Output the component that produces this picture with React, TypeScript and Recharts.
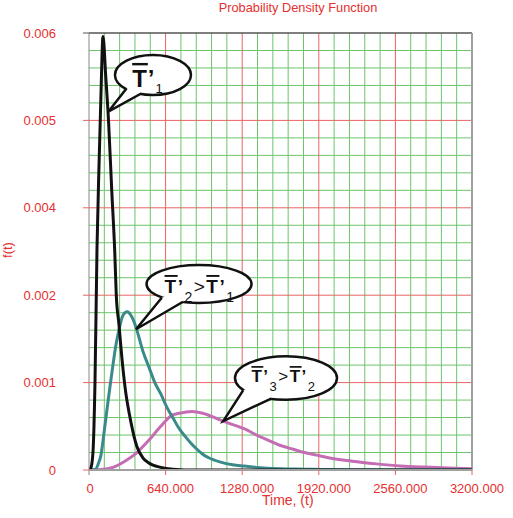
import { LineChart, Line, XAxis, YAxis, ReferenceLine, ReferenceDot } from "recharts";

// axis ticks
const X_TICKS = [0, 640, 1280, 1920, 2560, 3200];
const X_TICK_LABELS = ["0", "640.000", "1280.000", "1920.000", "2560.000", "3200.000"];
// the reference axis skips 0.003: labels are evenly spaced
const Y_TICK_VALUES = [0, 0.001, 0.002, 0.004, 0.005, 0.006];
const Y_TICK_LABELS = ["0", "0.001", "0.002", "0.004", "0.005", "0.006"];

// T'1 (black)
const BLACK_T = [0, 17, 33, 50, 67, 84, 100, 117, 140, 163, 190, 215, 228, 250, 275, 300, 350, 400, 450, 500, 600, 700, 900, 3200];
const BLACK_F = [0, 0.00003, 0.0002, 0.001, 0.0031, 0.0045, 0.0053, 0.00596, 0.0055, 0.005, 0.0042, 0.003, 0.002, 0.00167, 0.00128, 0.00096, 0.00055, 0.00027, 0.00014, 0.00008, 0.00003, 0.00001, 0, 0];

// T'2 (teal)
const TEAL_T = [0, 56, 80, 100, 125, 150, 175, 200, 225, 250, 275, 300, 320, 350, 375, 400, 450, 500, 550, 600, 650, 700, 750, 800, 850, 900, 950, 1000, 1100, 1200, 1300, 1400, 1600, 1800, 2000, 2400, 3200];
const TEAL_F = [0, 0.00001, 0.00008, 0.00017, 0.00042, 0.00069, 0.00095, 0.0012, 0.00143, 0.0016, 0.00174, 0.0018, 0.00181, 0.00177, 0.0017, 0.0016, 0.00136, 0.00118, 0.001, 0.00087, 0.00072, 0.0006, 0.00048, 0.00039, 0.00031, 0.00024, 0.00018, 0.00014, 0.00009, 0.00006, 0.000045, 0.00003, 0.000015, 0.00001, 0.000005, 0.000003, 0.000002];

// T'3 (pink)
const PINK_T = [0, 100, 200, 300, 400, 500, 600, 700, 800, 860, 950, 1100, 1200, 1300, 1400, 1500, 1600, 1700, 1800, 1900, 2000, 2200, 2400, 2600, 2800, 3000, 3200];
const PINK_F = [0, 0.000005, 0.00003, 0.0001, 0.0002, 0.00034, 0.0005, 0.00063, 0.00066, 0.00067, 0.00065, 0.00057, 0.00052, 0.00047, 0.0004, 0.00034, 0.00028, 0.00024, 0.0002, 0.00017, 0.00014, 0.0001, 0.00007, 0.000046, 0.000033, 0.000024, 0.000015];

const RED = "#e5302f";
const GRID_RED = "#e86464";
const GRID_GREEN = "#6cc46a";
const FONT = "'Liberation Sans', Arial, sans-serif";

// value -> position on the (uneven) y axis, in tick-index units
const toAxis = (v: number) => {
  for (let i = 0; i < Y_TICK_VALUES.length - 1; i++) {
    const a = Y_TICK_VALUES[i];
    const b = Y_TICK_VALUES[i + 1];
    if (v <= b) return i + (v - a) / (b - a);
  }
  return Y_TICK_VALUES.length - 1;
};

const toSeries = (t: number[], f: number[]) => t.map((x, i) => ({ x, y: toAxis(f[i]) }));

const blackData = toSeries(BLACK_T, BLACK_F);
const tealData = toSeries(TEAL_T, TEAL_F);
const pinkData = toSeries(PINK_T, PINK_F);

const Y_INDEX = Y_TICK_VALUES.map((_, i) => i);
const X_MINOR = Array.from({ length: 26 }, (_, i) => i * 128).filter((v) => v > 0 && v < 3200 && v % 640 !== 0);
const Y_MINOR = Array.from({ length: 26 }, (_, i) => i / 5).filter((v) => v > 0 && v < 5 && Math.abs(v - Math.round(v)) > 0.01);

const YTick = (props: any) => {
  const { x, y, payload } = props;
  return (
    <g>
      <line x1={x - 6} x2={x} y1={y} y2={y} stroke={payload.value === 5 ? "#555" : GRID_RED} />
      <text x={x - 33} y={y} dy="0.36em" textAnchor="end" fill={RED} fontSize={13} fontFamily={FONT}>
        {Y_TICK_LABELS[payload.value]}
      </text>
    </g>
  );
};

const XTick = (props: any) => {
  const { x, y, payload } = props;
  const i = X_TICKS.indexOf(payload.value);
  return (
    <g>
      <line x1={x} x2={x} y1={y} y2={y + 5} stroke={i === 0 ? "#888" : GRID_RED} />
      <text x={x + (i === 0 ? 1 : 5)} y={y + 23} textAnchor="middle" fill={RED} fontSize={13} fontFamily={FONT}>
        {X_TICK_LABELS[i]}
      </text>
    </g>
  );
};

interface BubbleSpec {
  ex: number;
  ey: number;
  rx: number;
  ry: number;
  b1: [number, number];
  b2: [number, number];
  tdx: number;
  base: number;
  size: number;
  sub: number;
  subDy: number;
  spacing: number;
  parts: string[];
}

const Bubble = ({ cx, cy, s }: { cx: number; cy: number; s: BubbleSpec }) => {
  const ecx = cx + s.ex;
  const ecy = cy + s.ey;
  const p1 = [cx + s.b1[0], cy + s.b1[1]];
  const p2 = [cx + s.b2[0], cy + s.b2[1]];
  const inward = (p: number[]) => {
    const dx = ecx - p[0];
    const dy = ecy - p[1];
    const d = Math.hypot(dx, dy);
    return [p[0] + (dx / d) * 5, p[1] + (dy / d) * 5];
  };
  const q1 = inward(p1);
  const q2 = inward(p2);
  const children: any[] = [];
  s.parts.forEach((p, i) => {
    if (p === "T")
      children.push(
        <tspan key={"t" + i} fontWeight="bold" style={{ textDecoration: "overline", textDecorationThickness: "3px" } as any}>
          T
        </tspan>
      );
    else if (p === "'") children.push(<tspan key={"a" + i} fontWeight="bold">’</tspan>);
    else if (p === ">") children.push(<tspan key={"g" + i} dy={-s.subDy}>&gt;</tspan>);
    else children.push(<tspan key={"s" + i} fontSize={s.sub} dy={s.subDy}>{p}</tspan>);
  });
  return (
    <g>
      <ellipse cx={ecx} cy={ecy} rx={s.rx} ry={s.ry} fill="#fff" stroke="#111" strokeWidth={2.5} />
      <polygon
        points={`${p1[0]},${p1[1]} ${cx},${cy} ${p2[0]},${p2[1]} ${q2[0]},${q2[1]} ${q1[0]},${q1[1]}`}
        fill="#fff"
      />
      <polyline
        points={`${p1[0]},${p1[1]} ${cx},${cy} ${p2[0]},${p2[1]}`}
        fill="none"
        stroke="#111"
        strokeWidth={2.5}
        strokeLinejoin="miter"
      />
      <text
        x={ecx + s.tdx}
        y={ecy + s.base}
        textAnchor="middle"
        fontSize={s.size}
        fontFamily={FONT}
        letterSpacing={s.spacing}
        fill="#111"
      >
        {children}
      </text>
    </g>
  );
};

const BUBBLE_1: BubbleSpec = {
  ex: 44.7, ey: -36.7, rx: 38, ry: 20, b1: [18.4, -23.4], b2: [33.4, -18.4],
  tdx: -5, base: 12, size: 24, sub: 13, subDy: 6, spacing: 1, parts: ["T", "'", "1"],
};
const BUBBLE_2: BubbleSpec = {
  ex: 63, ey: -45.3, rx: 52.5, ry: 19, b1: [25.7, -31.6], b2: [47, -27.5],
  tdx: 1, base: 9, size: 19, sub: 14, subDy: 9, spacing: 1.5, parts: ["T", "'", "2", ">", "T", "'", "1"],
};
const BUBBLE_3: BubbleSpec = {
  ex: 62.7, ey: -43, rx: 51, ry: 21.7, b1: [20, -31], b2: [48.4, -22.7],
  tdx: -2, base: 4, size: 17, sub: 13, subDy: 9, spacing: 1.5, parts: ["T", "'", "3", ">", "T", "'", "2"],
};

export default function App() {
  return (
    <div style={{ position: "absolute", left: 0, top: 0, width: 513, height: 518, background: "#fff" }}>
      <LineChart width={513} height={518} margin={{ top: 33, right: 41, left: 0, bottom: 0 }}>
        <XAxis
          type="number"
          dataKey="x"
          domain={[0, 3200]}
          ticks={X_TICKS}
          height={48}
          tickSize={0}
          tickMargin={0}
          tick={<XTick />}
          axisLine={{ stroke: "#a0a0a0", strokeWidth: 2 }}
          allowDataOverflow
        />
        <YAxis
          type="number"
          domain={[0, 5]}
          ticks={Y_INDEX}
          width={89}
          tickSize={0}
          tickMargin={0}
          tick={<YTick />}
          axisLine={{ stroke: "#888" }}
          allowDataOverflow
        />
        {X_MINOR.map((v) => (
          <ReferenceLine key={"xm" + v} x={v} stroke={GRID_GREEN} strokeWidth={1} />
        ))}
        {Y_MINOR.map((v) => (
          <ReferenceLine key={"ym" + v} y={v} stroke={GRID_GREEN} strokeWidth={1} />
        ))}
        {X_TICKS.slice(1, -1).map((v) => (
          <ReferenceLine key={"xM" + v} x={v} stroke={GRID_RED} strokeWidth={1} />
        ))}
        {Y_INDEX.slice(1, -1).map((v) => (
          <ReferenceLine key={"yM" + v} y={v} stroke={GRID_RED} strokeWidth={1} />
        ))}
        <ReferenceLine y={5} stroke="#555" strokeWidth={1.5} />
        <ReferenceLine x={3200} stroke="#a0a0a0" strokeWidth={2} />
        <Line data={pinkData} dataKey="y" type="monotone" stroke="#c46cb4" strokeWidth={3} dot={false} activeDot={false} isAnimationActive={false} />
        <Line data={tealData} dataKey="y" type="monotone" stroke="#3a8a8a" strokeWidth={3} dot={false} activeDot={false} isAnimationActive={false} />
        <Line data={blackData} dataKey="y" type="monotone" stroke="#111" strokeWidth={3} dot={false} activeDot={false} isAnimationActive={false} />
        <ReferenceDot x={161} y={toAxis(0.0051)} r={0} ifOverflow="visible" shape={(p: any) => <Bubble cx={p.cx} cy={p.cy} s={BUBBLE_1} />} />
        <ReferenceDot x={393} y={toAxis(0.00161)} r={0} ifOverflow="visible" shape={(p: any) => <Bubble cx={p.cx} cy={p.cy} s={BUBBLE_2} />} />
        <ReferenceDot x={1122} y={toAxis(0.00056)} r={0} ifOverflow="visible" shape={(p: any) => <Bubble cx={p.cx} cy={p.cy} s={BUBBLE_3} />} />
      </LineChart>
      <svg width={513} height={518} style={{ position: "absolute", left: 0, top: 0, pointerEvents: "none" }}>
        <text x={298} y={12} textAnchor="middle" fill={RED} fontSize={12.8} fontFamily={FONT}>
          Probability Density Function
        </text>
        <text x={262} y={505} fill={RED} fontSize={14} fontFamily={FONT}>
          Time, (t)
        </text>
        <text x={7.5} y={250} transform="rotate(-90 7.5 250)" textAnchor="middle" dominantBaseline="central" fill={RED} fontSize={13} fontFamily={FONT}>
          f(t)
        </text>
      </svg>
    </div>
  );
}
